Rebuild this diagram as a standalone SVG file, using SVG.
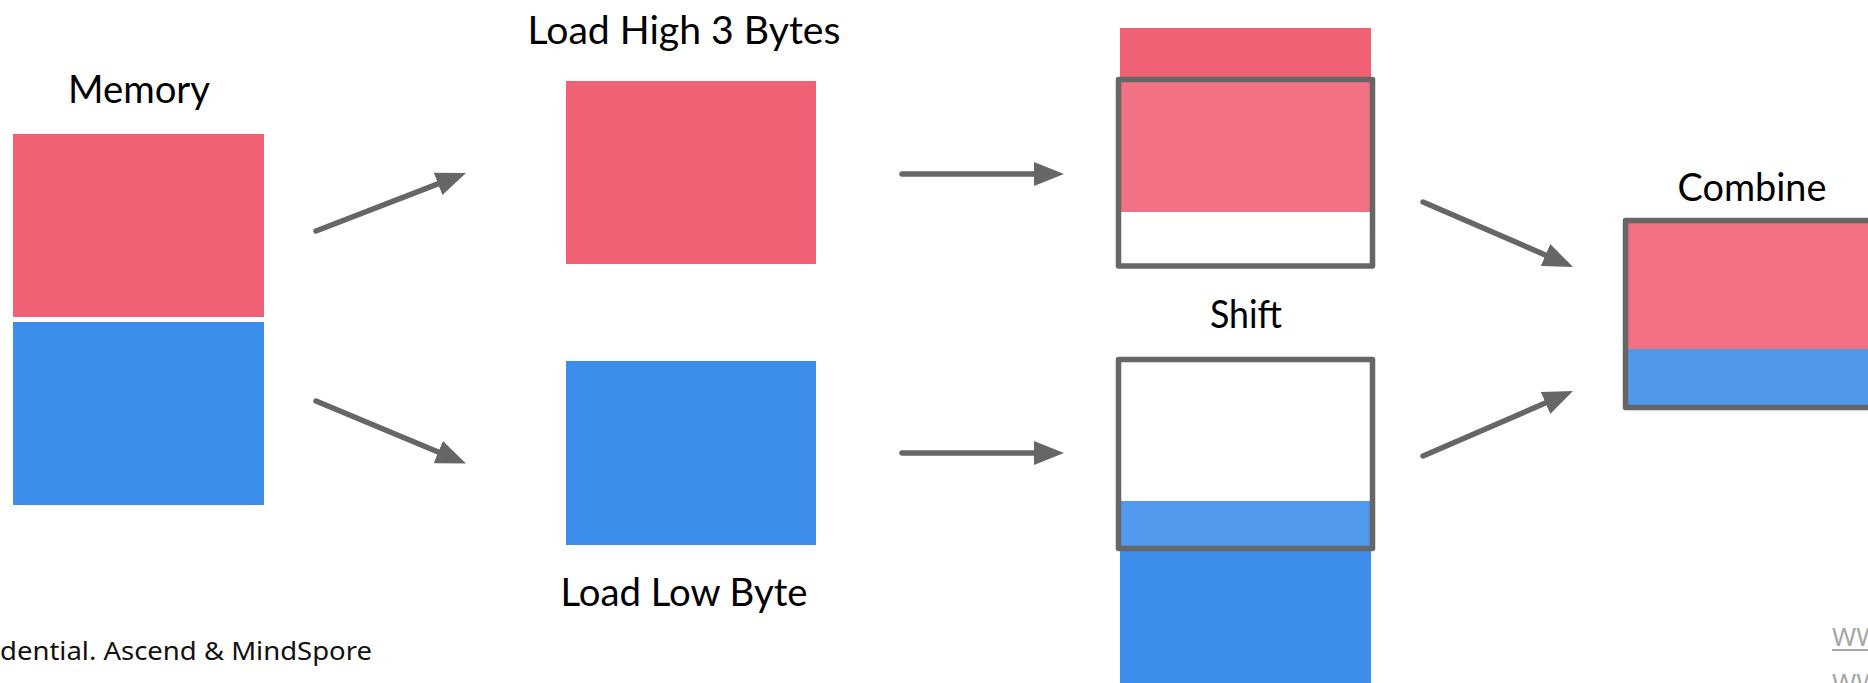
<svg xmlns="http://www.w3.org/2000/svg" width="1868" height="683" viewBox="0 0 1868 683">
  <style>
    .title { font-family: Lato, "Liberation Sans", sans-serif; font-size: 39px; fill: #000; text-anchor: middle; }
    .red { fill: #F16176; }
    .blue { fill: #3D8EEB; }
    .lred { fill: #F27083; }
    .lblue { fill: #4F98EA; }
    .frame { fill: #FFFFFF; fill-opacity: 0.1; stroke: #666666; stroke-width: 5.5; stroke-linejoin: round; }
    .frame-empty { fill: none; stroke: #666666; stroke-width: 5.5; stroke-linejoin: round; }
    .conn { stroke: #666666; stroke-width: 5.5; stroke-linecap: round; fill: none; marker-end: url(#arrow); }
    .footer { font-family: "Noto Sans", "Open Sans", sans-serif; font-size: 25px; fill: #111; }
    .link { font-family: "Noto Sans", "Open Sans", sans-serif; font-size: 26px; fill: #A6A6A6; }
  </style>
  <defs>
    <marker id="arrow" viewBox="0 0 30 24" refX="18" refY="12" markerWidth="30" markerHeight="24" markerUnits="userSpaceOnUse" orient="auto">
      <path d="M0,0 L30,12 L0,24 z" fill="#666666"/>
    </marker>
  </defs>
  <rect width="1868" height="683" fill="#FFFFFF"/>

  <g id="memory">
    <text class="title" x="139" y="103" textLength="142" lengthAdjust="spacingAndGlyphs">Memory</text>
    <rect class="red" x="13" y="134" width="251" height="183"/>
    <rect class="blue" x="13" y="322" width="251" height="183"/>
  </g>

  <g id="load-high">
    <text class="title" x="684" y="44" textLength="313" lengthAdjust="spacingAndGlyphs">Load High 3 Bytes</text>
    <rect class="red" x="566" y="81" width="250" height="183"/>
  </g>

  <g id="load-low">
    <rect class="blue" x="566" y="361" width="250" height="184"/>
    <text class="title" x="684" y="606" textLength="247" lengthAdjust="spacingAndGlyphs">Load Low Byte</text>
  </g>

  <g id="shift-high">
    <rect class="red" x="1120" y="28" width="251" height="184"/>
    <rect class="frame" x="1118.5" y="79.5" width="254" height="186.5"/>
  </g>

  <g id="shift-label">
    <text class="title" x="1246" y="328" textLength="72" lengthAdjust="spacingAndGlyphs">Shift</text>
  </g>

  <g id="shift-low">
    <rect class="blue" x="1120" y="501" width="251" height="184"/>
    <rect class="frame" x="1118.5" y="359.5" width="254" height="189"/>
  </g>

  <g id="combine">
    <text class="title" x="1752" y="201" textLength="149" lengthAdjust="spacingAndGlyphs">Combine</text>
    <rect class="lred" x="1625.5" y="220.5" width="254" height="128.5"/>
    <rect class="lblue" x="1625.5" y="349" width="254" height="58.5"/>
    <rect class="frame-empty" x="1625.5" y="220.5" width="254" height="187"/>
  </g>

  <g id="connectors">
    <line class="conn" x1="316" y1="231" x2="454.8" y2="177.4"/>
    <line class="conn" x1="316" y1="401" x2="454.9" y2="459"/>
    <line class="conn" x1="902" y1="174" x2="1052" y2="174"/>
    <line class="conn" x1="902" y1="453" x2="1052" y2="453"/>
    <line class="conn" x1="1423" y1="202" x2="1562" y2="262.2"/>
    <line class="conn" x1="1423" y1="456" x2="1562" y2="395.8"/>
  </g>

  <g id="footer">
    <text class="footer" x="0" y="660" textLength="372" lengthAdjust="spacingAndGlyphs">dential. Ascend &amp; MindSpore</text>
    <text class="link" x="1832" y="646">WW</text>
    <line x1="1832" y1="650" x2="1868" y2="650" stroke="#A6A6A6" stroke-width="2"/>
    <text class="link" x="1832" y="692">WW</text>
  </g>
</svg>
